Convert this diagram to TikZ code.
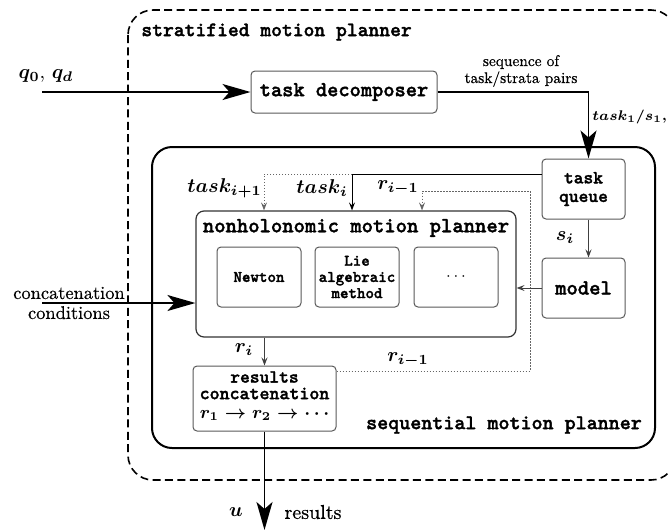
\documentclass[tikz,border=0pt]{standalone}
\usepackage{fontspec}
\usetikzlibrary{arrows.meta}
\newfontfamily\ttheavy{lmmonolt10-bold}[Extension=.otf, FakeBold=1.6]
\newfontfamily\rmheavy{lmroman10-regular}[Extension=.otf, FakeBold=0.6]
\newcommand{\ttb}[1]{\fontsize{#1}{#1}\ttheavy}
\newcommand{\rmsz}[2]{\fontsize{#1}{#2}\rmheavy}
\begin{document}
\begin{tikzpicture}[x=0.5pt,y=-0.5pt,
  box/.style={draw=black!65, line width=0.5pt, rounded corners=2pt, fill=white,
    align=center, inner sep=0pt},
  big/.style={-{Stealth[length=14pt,width=8pt,inset=3.5pt]}, line width=0.85pt},
  small/.style={-{Stealth[length=4pt,width=3pt,inset=1.5pt]}, line width=0.45pt, draw=black!75},
  dots/.style={dash pattern=on 0.6pt off 0.9pt, draw=black!60},
  lbl/.style={inner sep=0pt, font=\boldmath\fontsize{10}{12}\selectfont},
  txt/.style={inner sep=0pt, align=center}]
\useasboundingbox (0,0) rectangle (669,531);

% containers
\draw[line width=0.8pt, dash pattern=on 4pt off 2.2pt, rounded corners=12.5pt]
  (128,10) rectangle (676,480);
\draw[line width=1pt, rounded corners=10pt] (152,147) rectangle (655,448);
\node[txt, anchor=west, font=\ttb{10.3}] (strat) at (141,32) {stratified motion planner};
\node[txt, font=\ttb{10.5}] (seq) at (504,425) {sequential motion planner};

% blocks
\node[box, minimum width=93pt, minimum height=21pt, font=\ttb{10.7}] (td) at (344,92) {task decomposer};
\node[box, minimum width=41.5pt, minimum height=30pt, font=\ttb{9.3}] (tq) at (583.5,189) {task\\queue};
\node[box, minimum width=41.5pt, minimum height=30pt, font=\ttb{10.8}] (model) at (583.5,288) {model};
\node[box, draw=black!80, line width=0.6pt, rounded corners=4pt, minimum width=160pt, minimum height=63pt] (nmp) at (356,274) {};
\node[txt, font=\ttb{10.8}] (nmpt) at (356,228) {nonholonomic motion planner};
\node[box, minimum width=42pt, minimum height=30pt, font=\ttb{8.1}] (newton) at (259,277) {Newton};
\node[box, minimum width=42pt, minimum height=30pt, font=\ttb{8.1}] (lie) at (357,277) {Lie\\algebraic\\method};
\node[box, minimum width=42pt, minimum height=30pt, font=\ttb{8.1}] (more) at (456,277) {$\cdots$};
\node[box, minimum width=71.5pt, minimum height=32.5pt] (res) at (264.5,398.5) {};
\node[txt, font=\ttb{9.3}] (rest1) at (264.5,377) {results};
\node[txt, font=\ttb{9.5}] (rest2) at (264.5,393.5) {concatenation};
\node[lbl, font=\boldmath\fontsize{9}{10}\selectfont] (rest3) at (264.5,415) {$r_1\to r_2\to\cdots$};

% input and output
\coordinate (qin) at (42,92);
\node[lbl] (qlab) at (46,76) {$q_0$, $q_d$};
\draw[big] (qin) -- (td);
\coordinate (ccin) at (42,303);
\node[txt, font=\rmsz{9.2}{10}] (cclab) at (69,303) {concatenation\\conditions};
\draw[big] (ccin) -- (ccin -| nmp.west);
\coordinate (uout) at (264.5,530);
\draw[big] (res) -- (uout);
\node[lbl] (ulab) at (236,512) {$u$};
\node[txt, font=\rmsz{10}{12}] (reslab) at (313,512) {results};

% task sequence into the queue
\draw[big] (td.east) -| ([xshift=2.5pt]tq.north);
\node[txt, font=\rmsz{7.7}{8.5}] (seqlab) at (521,71) {sequence of\\task/strata pairs};
\node[lbl, anchor=west, font=\boldmath\fontsize{7.2}{9}\selectfont] (t1lab) at (592,117) {$task_1/s_1,..$};

% queue to model
\draw[small] ([xshift=2.5pt]tq.south) -- ([xshift=2.5pt]model.north);
\node[lbl] (silab) at (565,238) {$s_i$};

% tasks fed to the nonholonomic planner
\coordinate (ti) at (352,174);
\coordinate (tn) at (264,174);
\draw[small, draw=black] (tq.west |- ti) -- (ti) -- (ti |- nmp.north);
\draw[small, dots] (ti) -- (tn) -- (tn |- nmp.north);
\node[lbl, anchor=east] (tnlab) at (262,188) {$task_{i+1}$};
\node[lbl, anchor=east] (tilab) at (348,188) {$task_i$};

% previous result fed back
\coordinate (rl) at (422,191);
\coordinate (rc) at (530,371);
\draw[small, dots] (res.east |- rc) -- (rc) -- (rc |- rl) -- (rl) -- (rl |- nmp.north);
\node[lbl, anchor=east] (rl1lab) at (419,188) {$r_{i-1}$};
\node[lbl] (rl2lab) at (408,360) {$r_{i-1}$};

% model into the planner
\draw[small] (model.west) -- (model.west -| nmp.east);

% planner result
\draw[small] (res.north |- nmp.south) -- (res.north);
\node[lbl] (rilab) at (244,350) {$r_i$};
\end{tikzpicture}
\end{document}
